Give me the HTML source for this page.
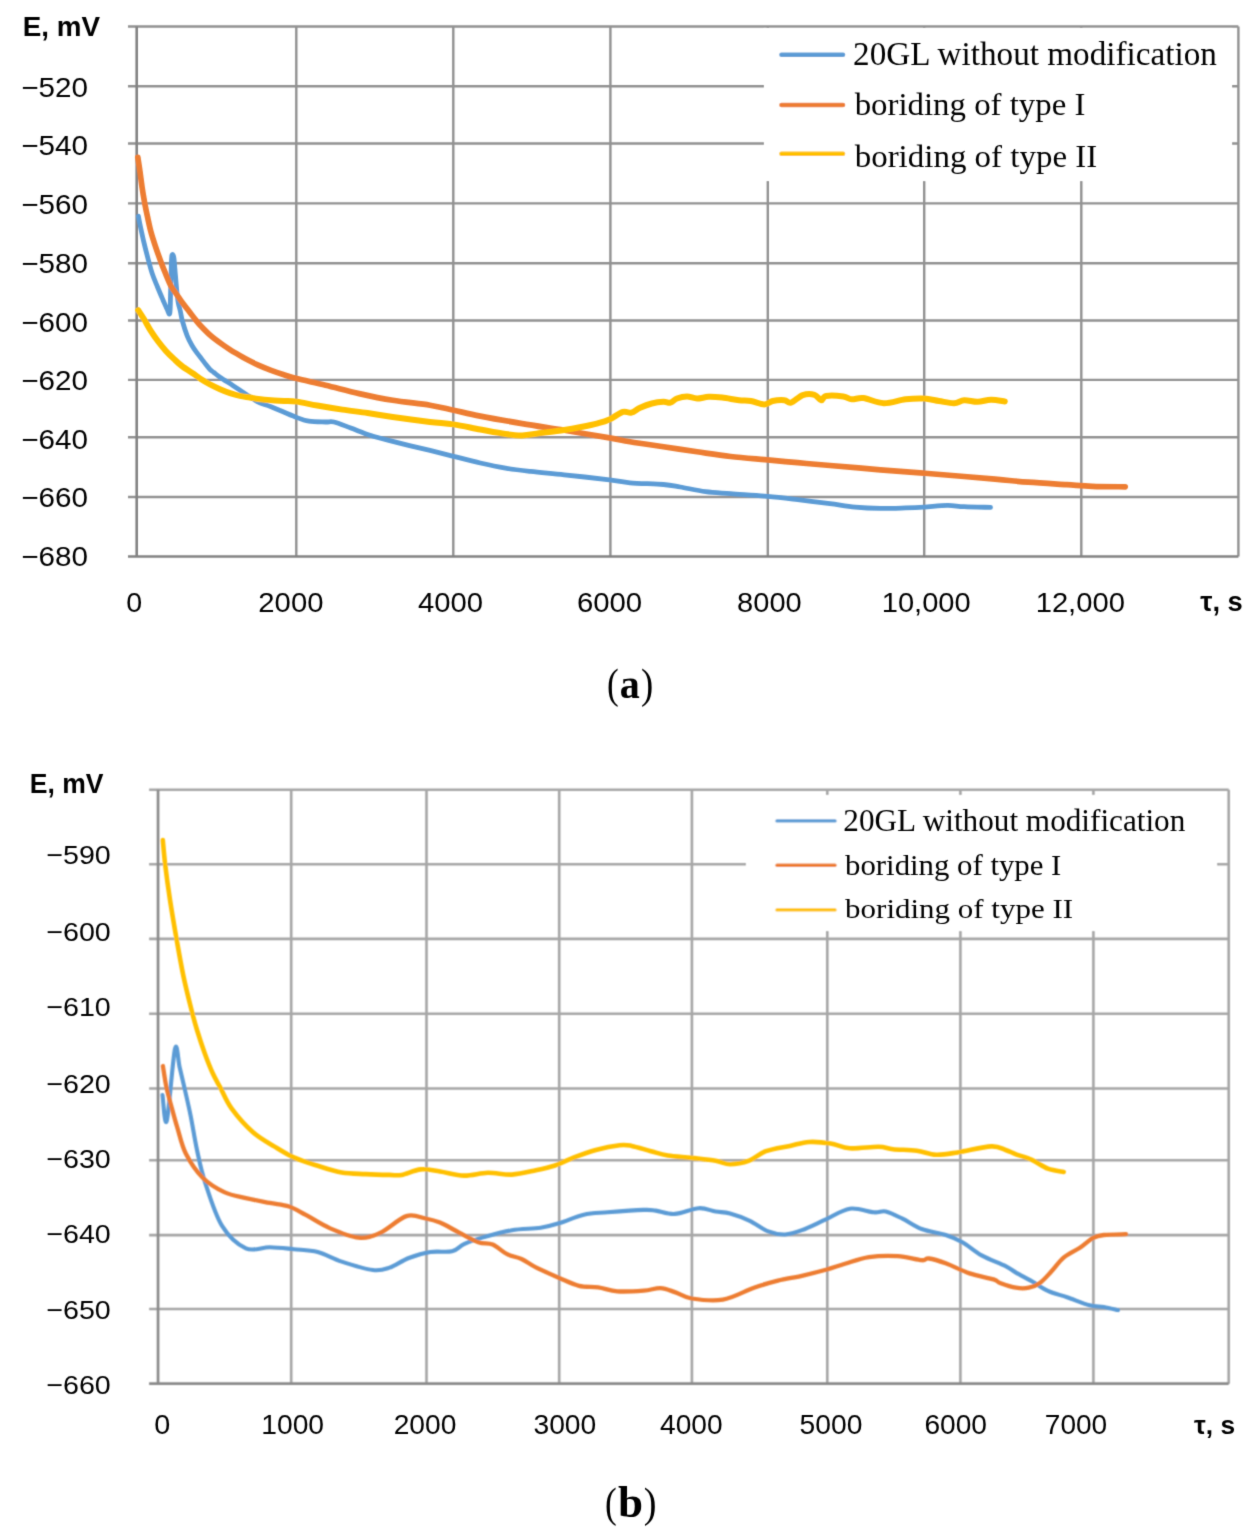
<!DOCTYPE html>
<html><head><meta charset="utf-8"><title>Open circuit potential</title>
<style>
html,body{margin:0;padding:0;background:#fff;}
body{width:1252px;height:1533px;overflow:hidden;}
svg{display:block;}
.S{font-family:"Liberation Sans", sans-serif;fill:#000;}
.R{font-family:"Liberation Serif", serif;fill:#000;}
</style></head><body>
<svg width="1252" height="1533" viewBox="0 0 1252 1533">
<rect width="1252" height="1533" fill="#fff"/>
<defs><filter id="blA" x="0" y="0" width="1252" height="1533" filterUnits="userSpaceOnUse"><feConvolveMatrix order="3" kernelMatrix="0.02250 0.10500 0.02250 0.10500 0.49000 0.10500 0.02250 0.10500 0.02250" divisor="1" edgeMode="duplicate"/></filter><filter id="blB" x="0" y="0" width="1252" height="1533" filterUnits="userSpaceOnUse"><feConvolveMatrix order="3" kernelMatrix="0.04840 0.12320 0.04840 0.12320 0.31360 0.12320 0.04840 0.12320 0.04840" divisor="1" edgeMode="duplicate"/></filter><filter id="blT" x="0" y="0" width="1252" height="1533" filterUnits="userSpaceOnUse"><feConvolveMatrix order="3" kernelMatrix="0.01440 0.09120 0.01440 0.09120 0.57760 0.09120 0.01440 0.09120 0.01440" divisor="1" edgeMode="duplicate"/></filter></defs>
<g filter="url(#blA)"><path d="M128,26.5 H1238.4 M128,86.3 H1238.4 M128,143.5 H1238.4 M128,203.4 H1238.4 M128,263.2 H1238.4 M128,320.5 H1238.4 M128,379.9 H1238.4 M128,437.2 H1238.4 M128,497.0 H1238.4 M296.3,26.5 V556.5 M453.3,26.5 V556.5 M610.4,26.5 V556.5 M767.8,26.5 V556.5 M924.2,26.5 V556.5 M1081.3,26.5 V556.5 M1238.4,26.5 V556.5" stroke="#929292" stroke-width="2.4" fill="none" stroke-linejoin="round"/>
<path d="M128,556.5 H1238.4 M136.7,26.5 V556.5" stroke="#828282" stroke-width="2.6" fill="none"/>
<path d="M138.40,216.30 C138.73,218.00 139.53,222.37 140.40,226.50 C141.27,230.63 142.37,235.88 143.60,241.10 C144.83,246.32 146.37,252.40 147.80,257.80 C149.23,263.20 150.58,268.63 152.20,273.50 C153.82,278.37 155.70,282.58 157.50,287.00 C159.30,291.42 161.42,296.33 163.00,300.00 C164.58,303.67 165.87,306.80 167.00,309.00 C168.13,311.20 169.20,316.03 169.80,313.20 C170.40,310.37 170.35,299.87 170.60,292.00 C170.85,284.13 171.07,272.12 171.30,266.00 C171.53,259.88 171.58,256.72 172.00,255.30 C172.42,253.88 173.23,254.22 173.80,257.50 C174.37,260.78 174.88,269.25 175.40,275.00 C175.92,280.75 176.42,287.33 176.90,292.00 C177.38,296.67 177.73,299.83 178.30,303.00 C178.87,306.17 179.62,308.00 180.30,311.00 C180.98,314.00 181.25,316.85 182.40,321.00 C183.55,325.15 185.60,331.82 187.20,335.90 C188.80,339.98 190.40,342.70 192.00,345.50 C193.60,348.30 195.20,350.47 196.80,352.70 C198.40,354.93 200.08,356.93 201.60,358.90 C203.12,360.87 204.50,362.73 205.90,364.50 C207.30,366.27 208.67,368.17 210.00,369.50 C211.33,370.83 212.23,371.22 213.90,372.50 C215.57,373.78 216.85,375.03 220.00,377.20 C223.15,379.37 228.53,382.72 232.80,385.50 C237.07,388.28 241.35,391.12 245.60,393.90 C249.85,396.68 254.05,400.07 258.30,402.20 C262.55,404.33 264.92,404.23 271.10,406.70 C277.28,409.17 289.10,414.58 295.40,417.00 C301.70,419.42 303.87,420.37 308.90,421.20 C313.93,422.03 321.42,421.87 325.60,422.00 C329.78,422.13 329.80,421.00 334.00,422.00 C338.20,423.00 344.65,425.75 350.80,428.00 C356.95,430.25 363.92,433.27 370.90,435.50 C377.88,437.73 386.27,439.72 392.70,441.40 C399.13,443.08 403.28,444.10 409.50,445.60 C415.72,447.10 422.67,448.62 430.00,450.40 C437.33,452.18 445.12,454.20 453.50,456.30 C461.88,458.40 471.63,461.03 480.30,463.00 C488.97,464.97 497.12,466.70 505.50,468.10 C513.88,469.50 520.82,470.28 530.60,471.40 C540.38,472.52 551.05,473.40 564.20,474.80 C577.35,476.20 598.53,478.47 609.50,479.80 C620.47,481.13 621.00,482.02 630.00,482.80 C639.00,483.58 655.12,483.80 663.50,484.50 C671.88,485.20 673.30,485.80 680.30,487.00 C687.30,488.20 697.12,490.58 705.50,491.70 C713.88,492.82 720.27,492.93 730.60,493.70 C740.93,494.47 756.32,495.32 767.50,496.30 C778.68,497.28 787.28,498.37 797.70,499.60 C808.12,500.83 820.42,502.45 830.00,503.70 C839.58,504.95 846.82,506.32 855.20,507.10 C863.58,507.88 871.92,508.27 880.30,508.40 C888.68,508.53 898.23,508.12 905.50,507.90 C912.77,507.68 916.92,507.52 923.90,507.10 C930.88,506.68 940.68,505.47 947.40,505.40 C954.12,505.33 957.02,506.37 964.20,506.70 C971.38,507.03 986.12,507.28 990.50,507.40" stroke="#5b9bd5" stroke-width="4.8" fill="none" stroke-linejoin="round" stroke-linecap="round"/>
<path d="M137.80,157.30 C138.15,159.60 139.20,166.18 139.90,171.10 C140.60,176.02 141.22,181.58 142.00,186.80 C142.78,192.02 143.63,197.18 144.60,202.40 C145.57,207.62 146.75,213.22 147.80,218.10 C148.85,222.98 149.68,227.17 150.90,231.70 C152.12,236.23 153.52,240.52 155.10,245.30 C156.68,250.08 158.65,255.67 160.40,260.40 C162.15,265.13 163.80,269.37 165.60,273.70 C167.40,278.03 169.33,282.92 171.20,286.40 C173.07,289.88 174.93,291.87 176.80,294.60 C178.67,297.33 180.27,299.90 182.40,302.80 C184.53,305.70 187.37,309.12 189.60,312.00 C191.83,314.88 193.80,317.63 195.80,320.10 C197.80,322.57 199.45,324.52 201.60,326.80 C203.75,329.08 206.32,331.63 208.70,333.80 C211.08,335.97 213.50,337.93 215.90,339.80 C218.30,341.67 220.70,343.33 223.10,345.00 C225.50,346.67 227.90,348.28 230.30,349.80 C232.70,351.32 234.95,352.60 237.50,354.10 C240.05,355.60 242.13,356.97 245.60,358.80 C249.07,360.63 254.05,363.18 258.30,365.10 C262.55,367.02 266.83,368.70 271.10,370.30 C275.37,371.90 279.63,373.32 283.90,374.70 C288.17,376.08 289.75,376.85 296.70,378.60 C303.65,380.35 315.18,382.70 325.60,385.20 C336.02,387.70 348.02,391.08 359.20,393.60 C370.38,396.12 380.90,398.37 392.70,400.30 C404.50,402.23 419.87,403.55 430.00,405.20 C440.13,406.85 445.12,408.38 453.50,410.20 C461.88,412.02 468.85,413.87 480.30,416.10 C491.75,418.33 508.22,421.23 522.20,423.60 C536.18,425.97 549.65,427.92 564.20,430.30 C578.75,432.68 598.53,436.00 609.50,437.90 C620.47,439.80 621.00,440.22 630.00,441.70 C639.00,443.18 652.32,445.12 663.50,446.80 C674.68,448.48 685.92,450.18 697.10,451.80 C708.28,453.42 718.87,455.15 730.60,456.50 C742.33,457.85 756.32,458.87 767.50,459.90 C778.68,460.93 787.28,461.77 797.70,462.70 C808.12,463.63 816.23,464.32 830.00,465.50 C843.77,466.68 864.65,468.52 880.30,469.80 C895.95,471.08 909.92,472.08 923.90,473.20 C937.88,474.32 951.90,475.47 964.20,476.50 C976.50,477.53 987.02,478.45 997.70,479.40 C1008.38,480.35 1016.80,481.32 1028.30,482.20 C1039.80,483.08 1056.05,484.02 1066.70,484.70 C1077.35,485.38 1082.45,485.95 1092.20,486.30 C1101.95,486.65 1119.70,486.72 1125.20,486.80" stroke="#ed7d31" stroke-width="5.7" fill="none" stroke-linejoin="round" stroke-linecap="round"/>
<path d="M138.20,310.20 C139.23,311.80 142.30,316.35 144.40,319.80 C146.50,323.25 148.53,327.32 150.80,330.90 C153.07,334.48 155.48,337.97 158.00,341.30 C160.52,344.63 163.25,347.97 165.90,350.90 C168.55,353.83 171.23,356.38 173.90,358.90 C176.57,361.42 178.57,363.48 181.90,366.00 C185.23,368.52 190.88,371.92 193.90,374.00 C196.92,376.08 197.32,376.77 200.00,378.50 C202.68,380.23 206.67,382.62 210.00,384.40 C213.33,386.18 216.67,387.75 220.00,389.20 C223.33,390.65 226.67,391.98 230.00,393.10 C233.33,394.22 236.67,395.17 240.00,395.90 C243.33,396.63 246.95,396.98 250.00,397.50 C253.05,398.02 254.78,398.53 258.30,399.00 C261.82,399.47 266.83,399.98 271.10,400.30 C275.37,400.62 279.63,400.68 283.90,400.90 C288.17,401.12 291.15,400.83 296.70,401.60 C302.25,402.37 309.58,404.17 317.20,405.50 C324.82,406.83 334.00,408.35 342.40,409.60 C350.80,410.85 359.22,411.77 367.60,413.00 C375.98,414.23 382.30,415.52 392.70,417.00 C403.10,418.48 419.87,420.67 430.00,421.90 C440.13,423.13 445.12,423.13 453.50,424.40 C461.88,425.67 471.63,427.90 480.30,429.50 C488.97,431.10 498.52,433.02 505.50,434.00 C512.48,434.98 516.62,435.52 522.20,435.40 C527.78,435.28 532.00,434.20 539.00,433.30 C546.00,432.40 557.20,431.05 564.20,430.00 C571.20,428.95 575.42,428.12 581.00,427.00 C586.58,425.88 592.95,424.57 597.70,423.30 C602.45,422.03 605.30,421.30 609.50,419.40 C613.70,417.50 619.27,413.02 622.90,411.90 C626.53,410.78 628.43,413.40 631.30,412.70 C634.17,412.00 636.68,409.23 640.10,407.70 C643.52,406.17 647.90,404.48 651.80,403.50 C655.70,402.52 660.42,401.93 663.50,401.80 C666.58,401.67 668.05,403.25 670.30,402.70 C672.55,402.15 674.22,399.53 677.00,398.50 C679.78,397.47 683.65,396.50 687.00,396.50 C690.35,396.50 693.47,398.45 697.10,398.50 C700.73,398.55 704.62,396.95 708.80,396.80 C712.98,396.65 717.17,397.03 722.20,397.60 C727.23,398.17 734.23,399.63 739.00,400.20 C743.77,400.77 746.60,400.30 750.80,401.00 C755.00,401.70 760.57,404.40 764.20,404.40 C767.83,404.40 769.25,401.70 772.60,401.00 C775.95,400.30 781.23,399.92 784.30,400.20 C787.37,400.48 787.92,403.55 791.00,402.70 C794.08,401.85 798.88,396.42 802.80,395.10 C806.72,393.78 811.43,393.95 814.50,394.80 C817.57,395.65 819.25,400.00 821.20,400.20 C823.15,400.40 822.50,396.62 826.20,396.00 C829.90,395.38 839.13,395.95 843.40,396.50 C847.67,397.05 848.45,399.03 851.80,399.30 C855.15,399.57 858.18,397.45 863.50,398.10 C868.82,398.75 876.70,403.00 883.70,403.20 C890.70,403.40 898.80,400.08 905.50,399.30 C912.20,398.52 918.32,398.22 923.90,398.50 C929.48,398.78 933.97,400.22 939.00,401.00 C944.03,401.78 949.90,403.33 954.10,403.20 C958.30,403.07 960.28,400.43 964.20,400.20 C968.12,399.97 973.13,401.87 977.60,401.80 C982.07,401.73 986.47,399.85 991.00,399.80 C995.53,399.75 1002.50,401.22 1004.80,401.50" stroke="#ffc000" stroke-width="6.0" fill="none" stroke-linejoin="round" stroke-linecap="round"/>
<rect x="764" y="28" width="468" height="153" fill="#fff"/>
<path d="M781.4,54.8 H843.1" stroke-linecap="round" stroke="#5b9bd5" stroke-width="4.4"/>
<path d="M781.4,105 H843.1" stroke-linecap="round" stroke="#ed7d31" stroke-width="4.4"/>
<path d="M781.4,153.7 H843.1" stroke-linecap="round" stroke="#ffc000" stroke-width="4.4"/></g>
<g filter="url(#blB)"><path d="M149.1,789.7 H1228.7 M149.1,864.3 H1228.7 M149.1,938.9 H1228.7 M149.1,1013.7 H1228.7 M149.1,1088.5 H1228.7 M149.1,1160.2 H1228.7 M149.1,1235.1 H1228.7 M149.1,1309.0 H1228.7 M291.2,789.7 V1383.7 M426.5,789.7 V1383.7 M559.2,789.7 V1383.7 M691.9,789.7 V1383.7 M827.3,789.7 V1383.7 M960.4,789.7 V1383.7 M1093.4,789.7 V1383.7 M1228.7,789.7 V1383.7" stroke="#a6a6a6" stroke-width="2.6" fill="none" stroke-linejoin="round"/>
<path d="M149.1,1383.7 H1228.7 M158.05,789.7 V1383.7" stroke="#8a8a8a" stroke-width="2.7" fill="none"/>
<path d="M162.50,1095.00 C163.22,1099.30 164.72,1128.50 166.80,1120.80 C168.88,1113.10 172.85,1057.67 175.00,1048.80 C177.15,1039.93 178.00,1060.55 179.70,1067.60 C181.40,1074.65 183.37,1083.02 185.20,1091.10 C187.03,1099.18 188.73,1106.28 190.70,1116.10 C192.67,1125.92 194.60,1138.93 197.00,1150.00 C199.40,1161.07 200.95,1169.88 205.10,1182.50 C209.25,1195.12 215.10,1214.72 221.90,1225.70 C228.70,1236.68 237.92,1244.82 245.90,1248.40 C253.88,1251.98 261.82,1247.07 269.80,1247.20 C277.78,1247.33 285.82,1248.40 293.80,1249.20 C301.78,1250.00 309.72,1249.93 317.70,1252.00 C325.68,1254.07 332.50,1258.60 341.70,1261.60 C350.90,1264.60 364.92,1269.00 372.90,1270.00 C380.88,1271.00 383.62,1269.60 389.60,1267.60 C395.58,1265.60 402.00,1260.60 408.80,1258.00 C415.60,1255.40 423.20,1253.12 430.40,1252.00 C437.60,1250.88 446.40,1252.62 452.00,1251.30 C457.60,1249.98 458.82,1246.42 464.00,1244.10 C469.18,1241.78 475.12,1239.72 483.10,1237.40 C491.08,1235.08 502.32,1231.80 511.90,1230.20 C521.48,1228.60 532.62,1229.00 540.60,1227.80 C548.58,1226.60 552.60,1225.18 559.80,1223.00 C567.00,1220.82 575.82,1216.48 583.80,1214.70 C591.78,1212.92 597.72,1213.10 607.70,1212.30 C617.68,1211.50 635.70,1210.18 643.70,1209.90 C651.70,1209.62 650.52,1209.93 655.70,1210.60 C660.88,1211.27 667.62,1214.30 674.80,1213.90 C681.98,1213.50 692.00,1208.60 698.80,1208.20 C705.60,1207.80 710.40,1210.62 715.60,1211.50 C720.80,1212.38 724.40,1211.98 730.00,1213.50 C735.60,1215.02 742.82,1217.62 749.20,1220.60 C755.58,1223.58 762.32,1229.08 768.30,1231.40 C774.28,1233.72 779.50,1234.70 785.10,1234.50 C790.70,1234.30 795.10,1232.72 801.90,1230.20 C808.70,1227.68 817.92,1222.98 825.90,1219.40 C833.88,1215.82 841.82,1209.88 849.80,1208.70 C857.78,1207.52 867.80,1211.83 873.80,1212.30 C879.80,1212.77 881.02,1210.43 885.80,1211.50 C890.58,1212.57 896.52,1215.78 902.50,1218.70 C908.48,1221.62 914.50,1226.28 921.70,1229.00 C928.90,1231.72 938.92,1232.80 945.70,1235.00 C952.48,1237.20 956.42,1238.80 962.40,1242.20 C968.38,1245.60 974.40,1251.40 981.60,1255.40 C988.80,1259.40 999.87,1263.33 1005.60,1266.20 C1011.33,1269.07 1011.62,1270.08 1016.00,1272.60 C1020.38,1275.12 1026.58,1278.25 1031.90,1281.30 C1037.22,1284.35 1042.03,1288.23 1047.90,1290.90 C1053.77,1293.57 1060.17,1294.90 1067.10,1297.30 C1074.03,1299.70 1083.38,1303.70 1089.50,1305.30 C1095.62,1306.90 1099.05,1306.10 1103.80,1306.90 C1108.55,1307.70 1115.63,1309.57 1118.00,1310.10" stroke="#5b9bd5" stroke-width="4.1" fill="none" stroke-linejoin="round" stroke-linecap="round"/>
<path d="M162.90,1066.00 C163.48,1069.52 164.90,1080.05 166.40,1087.10 C167.90,1094.15 170.07,1101.52 171.90,1108.30 C173.73,1115.08 175.07,1120.22 177.40,1127.80 C179.73,1135.38 181.68,1145.48 185.90,1153.80 C190.12,1162.12 196.30,1171.32 202.70,1177.70 C209.10,1184.08 217.10,1188.70 224.30,1192.10 C231.50,1195.50 238.32,1196.30 245.90,1198.10 C253.48,1199.90 262.62,1201.50 269.80,1202.90 C276.98,1204.30 283.00,1204.50 289.00,1206.50 C295.00,1208.50 299.02,1211.30 305.80,1214.90 C312.58,1218.50 320.92,1224.30 329.70,1228.10 C338.48,1231.90 350.12,1236.90 358.50,1237.70 C366.88,1238.50 372.02,1236.50 380.00,1232.90 C387.98,1229.30 398.80,1218.50 406.40,1216.10 C414.00,1213.70 420.00,1217.42 425.60,1218.50 C431.20,1219.58 434.40,1220.25 440.00,1222.60 C445.60,1224.95 452.82,1229.33 459.20,1232.60 C465.58,1235.87 472.72,1240.20 478.30,1242.20 C483.88,1244.20 487.90,1242.60 492.70,1244.60 C497.50,1246.60 502.30,1251.80 507.10,1254.20 C511.90,1256.60 516.70,1256.80 521.50,1259.00 C526.30,1261.20 529.52,1264.20 535.90,1267.40 C542.28,1270.60 552.62,1275.13 559.80,1278.20 C566.98,1281.27 572.60,1284.28 579.00,1285.80 C585.40,1287.32 591.82,1286.38 598.20,1287.30 C604.58,1288.22 609.72,1290.75 617.30,1291.30 C624.88,1291.85 636.50,1291.12 643.70,1290.60 C650.90,1290.08 655.32,1287.95 660.50,1288.20 C665.68,1288.45 669.62,1290.38 674.80,1292.10 C679.98,1293.82 683.60,1297.23 691.60,1298.50 C699.60,1299.77 712.40,1301.50 722.80,1299.70 C733.20,1297.90 744.82,1290.88 754.00,1287.70 C763.18,1284.52 769.92,1282.58 777.90,1280.60 C785.88,1278.62 793.90,1277.60 801.90,1275.80 C809.90,1274.00 818.72,1271.80 825.90,1269.80 C833.08,1267.80 837.82,1265.92 845.00,1263.80 C852.18,1261.68 860.22,1258.38 869.00,1257.10 C877.78,1255.82 888.92,1255.58 897.70,1256.10 C906.48,1256.62 916.50,1259.80 921.70,1260.20 C926.90,1260.60 924.90,1257.98 928.90,1258.50 C932.90,1259.02 938.92,1260.82 945.70,1263.30 C952.48,1265.78 961.62,1270.72 969.60,1273.40 C977.58,1276.08 988.53,1277.82 993.60,1279.40 C998.67,1280.98 996.27,1281.52 1000.00,1282.90 C1003.73,1284.28 1011.20,1286.90 1016.00,1287.70 C1020.80,1288.50 1024.82,1288.50 1028.80,1287.70 C1032.78,1286.90 1036.18,1285.55 1039.90,1282.90 C1043.62,1280.25 1047.10,1276.05 1051.10,1271.80 C1055.10,1267.55 1059.10,1261.40 1063.90,1257.40 C1068.70,1253.40 1075.10,1251.00 1079.90,1247.80 C1084.70,1244.60 1088.72,1240.33 1092.70,1238.20 C1096.68,1236.07 1098.25,1235.67 1103.80,1235.00 C1109.35,1234.33 1122.30,1234.33 1126.00,1234.20" stroke="#ed7d31" stroke-width="4.3" fill="none" stroke-linejoin="round" stroke-linecap="round"/>
<path d="M162.80,840.00 C163.20,844.12 164.00,854.72 165.20,864.70 C166.40,874.68 168.13,887.65 170.00,899.90 C171.87,912.15 174.15,925.43 176.40,938.20 C178.65,950.97 180.98,964.53 183.50,976.50 C186.02,988.47 189.25,1001.08 191.50,1010.00 C193.75,1018.92 194.78,1022.75 197.00,1030.00 C199.22,1037.25 202.20,1046.33 204.80,1053.50 C207.40,1060.67 209.98,1067.27 212.60,1073.00 C215.22,1078.73 217.35,1082.02 220.50,1087.90 C223.65,1093.78 226.08,1100.92 231.50,1108.30 C236.92,1115.68 245.82,1125.82 253.00,1132.20 C260.18,1138.58 267.80,1142.40 274.60,1146.60 C281.40,1150.80 286.62,1154.20 293.80,1157.40 C300.98,1160.60 309.72,1163.28 317.70,1165.80 C325.68,1168.32 333.70,1171.12 341.70,1172.50 C349.70,1173.88 357.72,1173.70 365.70,1174.10 C373.68,1174.50 383.62,1174.77 389.60,1174.90 C395.58,1175.03 396.40,1175.82 401.60,1174.90 C406.80,1173.98 414.40,1169.97 420.80,1169.40 C427.20,1168.83 432.80,1170.47 440.00,1171.50 C447.20,1172.53 456.02,1175.40 464.00,1175.60 C471.98,1175.80 479.92,1172.87 487.90,1172.70 C495.88,1172.53 503.90,1175.00 511.90,1174.60 C519.90,1174.20 528.72,1171.82 535.90,1170.30 C543.08,1168.78 549.02,1167.50 555.00,1165.50 C560.98,1163.50 565.00,1160.88 571.80,1158.30 C578.60,1155.72 587.82,1152.18 595.80,1150.00 C603.78,1147.82 613.72,1145.88 619.70,1145.20 C625.68,1144.52 626.50,1144.90 631.70,1145.90 C636.90,1146.90 644.90,1149.60 650.90,1151.20 C656.90,1152.80 660.92,1154.38 667.70,1155.50 C674.48,1156.62 683.62,1157.03 691.60,1157.90 C699.58,1158.77 709.20,1159.63 715.60,1160.70 C722.00,1161.77 724.40,1164.30 730.00,1164.30 C735.60,1164.30 743.22,1162.88 749.20,1160.70 C755.18,1158.52 759.12,1153.67 765.90,1151.20 C772.68,1148.73 782.70,1147.43 789.90,1145.90 C797.10,1144.37 802.32,1142.40 809.10,1142.00 C815.88,1141.60 823.82,1142.45 830.60,1143.50 C837.38,1144.55 841.80,1147.75 849.80,1148.30 C857.80,1148.85 871.40,1146.65 878.60,1146.80 C885.80,1146.95 886.62,1148.55 893.00,1149.20 C899.38,1149.85 909.72,1149.78 916.90,1150.70 C924.08,1151.62 929.30,1154.42 936.10,1154.70 C942.90,1154.98 948.52,1153.78 957.70,1152.40 C966.88,1151.02 983.22,1146.80 991.20,1146.40 C999.18,1146.00 1001.47,1148.68 1005.60,1150.00 C1009.73,1151.32 1011.62,1152.65 1016.00,1154.30 C1020.38,1155.95 1026.58,1157.50 1031.90,1159.90 C1037.22,1162.30 1042.60,1166.70 1047.90,1168.70 C1053.20,1170.70 1061.07,1171.37 1063.70,1171.90" stroke="#ffc000" stroke-width="4.6" fill="none" stroke-linejoin="round" stroke-linecap="round"/>
<rect x="746" y="795" width="471" height="136" fill="#fff"/>
<path d="M777,820.9 H835" stroke-linecap="round" stroke="#5b9bd5" stroke-width="3.4"/>
<path d="M777,865.3 H835" stroke-linecap="round" stroke="#ed7d31" stroke-width="3.4"/>
<path d="M777,909.9 H835" stroke-linecap="round" stroke="#ffc000" stroke-width="3.4"/></g>
<g filter="url(#blT)"><text class="S" font-size="27.58" transform="translate(21.21 96.57) scale(1.0742 1)">−520</text>
<text class="S" font-size="27.58" transform="translate(21.21 155.46) scale(1.0742 1)">−540</text>
<text class="S" font-size="27.58" transform="translate(21.21 214.26) scale(1.0742 1)">−560</text>
<text class="S" font-size="27.58" transform="translate(21.21 272.87) scale(1.0742 1)">−580</text>
<text class="S" font-size="27.58" transform="translate(21.21 331.67) scale(1.0742 1)">−600</text>
<text class="S" font-size="27.58" transform="translate(21.21 389.97) scale(1.0742 1)">−620</text>
<text class="S" font-size="27.58" transform="translate(21.21 448.57) scale(1.0742 1)">−640</text>
<text class="S" font-size="27.58" transform="translate(21.21 507.27) scale(1.0742 1)">−660</text>
<text class="S" font-size="27.58" transform="translate(21.21 565.77) scale(1.0742 1)">−680</text>
<text class="S" font-size="26.26" transform="translate(46.26 864.40) scale(1.0915 1)">−590</text>
<text class="S" font-size="26.26" transform="translate(46.26 940.60) scale(1.0915 1)">−600</text>
<text class="S" font-size="26.26" transform="translate(46.26 1016.19) scale(1.0915 1)">−610</text>
<text class="S" font-size="26.26" transform="translate(46.26 1092.68) scale(1.0915 1)">−620</text>
<text class="S" font-size="26.26" transform="translate(46.26 1167.79) scale(1.0915 1)">−630</text>
<text class="S" font-size="26.26" transform="translate(46.26 1242.79) scale(1.0915 1)">−640</text>
<text class="S" font-size="26.26" transform="translate(46.26 1318.88) scale(1.0915 1)">−650</text>
<text class="S" font-size="26.26" transform="translate(46.26 1393.99) scale(1.0915 1)">−660</text>
<text class="S" font-size="27.88" transform="translate(126.31 612.40) scale(1.0260 1)">0</text>
<text class="S" font-size="27.88" transform="translate(258.33 612.40) scale(1.0498 1)">2000</text>
<text class="S" font-size="27.88" transform="translate(418.04 612.40) scale(1.0496 1)">4000</text>
<text class="S" font-size="27.88" transform="translate(576.92 612.40) scale(1.0531 1)">6000</text>
<text class="S" font-size="27.88" transform="translate(737.09 612.40) scale(1.0422 1)">8000</text>
<text class="S" font-size="27.88" transform="translate(881.78 612.40) scale(1.0432 1)">10,000</text>
<text class="S" font-size="27.88" transform="translate(1035.68 612.40) scale(1.0468 1)">12,000</text>
<text class="S" font-size="27.59" transform="translate(154.30 1433.90) scale(1.0438 1)">0</text>
<text class="S" font-size="27.59" transform="translate(261.23 1433.90) scale(1.0243 1)">1000</text>
<text class="S" font-size="27.59" transform="translate(393.68 1433.90) scale(1.0219 1)">2000</text>
<text class="S" font-size="27.59" transform="translate(533.42 1433.90) scale(1.0246 1)">3000</text>
<text class="S" font-size="27.59" transform="translate(660.06 1433.90) scale(1.0189 1)">4000</text>
<text class="S" font-size="27.59" transform="translate(799.62 1433.90) scale(1.0246 1)">5000</text>
<text class="S" font-size="27.59" transform="translate(924.38 1433.90) scale(1.0202 1)">6000</text>
<text class="S" font-size="27.59" transform="translate(1044.78 1433.90) scale(1.0169 1)">7000</text>
<text class="S" font-weight="bold" font-size="27.25" transform="translate(1200.20 611.00) scale(1.0037 1)">τ, s</text>
<text class="S" font-weight="bold" font-size="25.60" transform="translate(1194.10 1433.60) scale(1.0296 1)">τ, s</text>
<text class="S" font-weight="bold" font-size="28.30" transform="translate(22.66 35.90) scale(0.9829 1)">E, mV</text>
<text class="S" font-weight="bold" font-size="27.02" transform="translate(29.74 792.90) scale(0.9832 1)">E, mV</text>
<text class="R" font-size="32.91" transform="translate(853.06 64.50) scale(1.0089 1)">20GL without modification</text>
<text class="R" font-size="31.29" transform="translate(854.70 114.90) scale(1.0497 1)">boriding of type I</text>
<text class="R" font-size="31.29" transform="translate(854.70 166.70) scale(1.0535 1)">boriding of type II</text>
<text class="R" font-size="32.15" transform="translate(843.32 830.50) scale(0.9707 1)">20GL without modification</text>
<text class="R" font-size="29.16" transform="translate(845.10 874.50) scale(1.0560 1)">boriding of type I</text>
<text class="R" font-size="28.30" transform="translate(845.10 918.10) scale(1.0953 1)">boriding of type II</text>
<text class="R" font-size="42.20" transform="translate(606.90 697.67) scale(0.8342 1)">(</text>
<text class="R" font-weight="bold" font-size="42.45" transform="translate(619.85 697.90) scale(0.9447 1)">a</text>
<text class="R" font-size="42.20" transform="translate(640.95 697.67) scale(0.8743 1)">)</text>
<text class="R" font-size="42.20" transform="translate(604.90 1516.67) scale(0.8342 1)">(</text>
<text class="R" font-weight="bold" font-size="44.23" transform="translate(617.90 1517.10) scale(1.0172 1)">b</text>
<text class="R" font-size="42.20" transform="translate(643.70 1516.67) scale(0.9100 1)">)</text></g>
</svg>
</body></html>
